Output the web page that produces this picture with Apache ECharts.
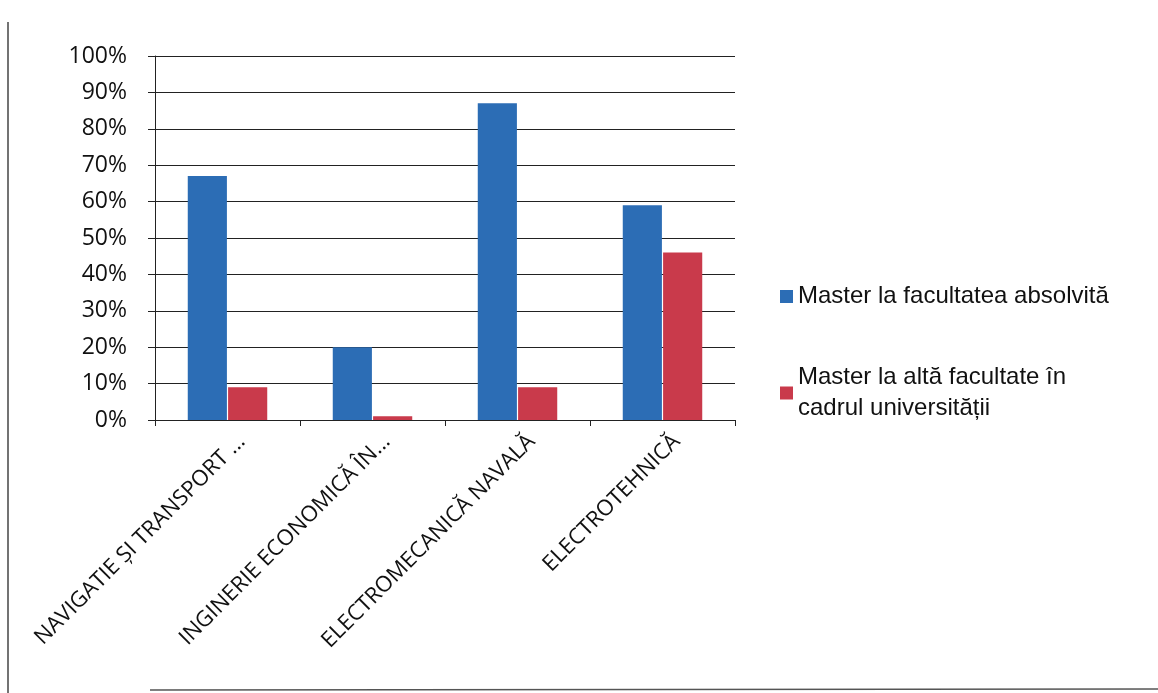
<!DOCTYPE html>
<html><head><meta charset="utf-8">
<script src="https://cdn.jsdelivr.net/npm/echarts@6/dist/echarts.min.js"></script>
<style>html,body{margin:0;padding:0;background:#fff}#c{width:1158px;height:693px}</style>
</head><body><div id="c"></div>
<script>
const categories = ['NAVIGATIE ȘI TRANSPORT ...', 'INGINERIE ECONOMICĂ ÎN...', 'ELECTROMECANICĂ NAVALĂ', 'ELECTROTEHNICĂ'];
const seriesNames = ['Master la facultatea absolvită', 'Master la altă facultate în\ncadrul universității'];
const masterAbsolvita = [67, 20, 87, 59];
const masterAlta = [9, 1, 9, 46];
const yTicks = [0, 10, 20, 30, 40, 50, 60, 70, 80, 90, 100];

const chart = echarts.init(document.getElementById('c'));
chart.setOption({
  backgroundColor: '#fff',
  animation: false,
  textStyle: {fontFamily: 'Open Sans'},
  grid: {left: 155, right: 423, top: 56, bottom: 273},
  legend: {
    orient: 'vertical', left: 775, top: 276, itemWidth: 13, itemHeight: 13, itemGap: 50,
    icon: 'rect',
    textStyle: {fontFamily: 'Liberation Sans', fontSize: 24, color: '#111', lineHeight: 31},
    data: seriesNames
  },
  xAxis: {
    type: 'category', data: categories,
    axisLine: {lineStyle: {color: '#222', width: 1}},
    axisTick: {show: true, length: 6, lineStyle: {color: '#222'}},
    axisLabel: {rotate: 45, interval: 0, fontSize: 22, lineHeight: 40, color: '#111', fontFamily: 'Open Sans',
                margin: 4, verticalAlign: 'top'}
  },
  yAxis: {
    type: 'value', min: yTicks[0], max: yTicks[yTicks.length - 1], interval: 10,
    axisLine: {show: true, lineStyle: {color: '#222'}},
    axisTick: {show: true, inside: false, length: 7, lineStyle: {color: '#222'}},
    axisLabel: {formatter: v => v + '%', fontSize: 23, color: '#111', margin: 28},
    splitLine: {lineStyle: {color: '#222', width: 1.2}}
  },
  series: [
    {name: seriesNames[0], type: 'bar', data: masterAbsolvita, barWidth: '27%', barGap: '3%',
     itemStyle: {color: '#2c6db5'}},
    {name: seriesNames[1], type: 'bar', data: masterAlta, barWidth: '27%',
     itemStyle: {color: '#c93a4b'}}
  ],
  graphic: [
    {type: 'line', shape: {x1: 8, y1: 22, x2: 8, y2: 693}, style: {stroke: '#444', lineWidth: 1.5}},
    {type: 'line', shape: {x1: 150, y1: 690, x2: 1158, y2: 689}, style: {stroke: '#555', lineWidth: 1.5}}
  ]
});
</script></body></html>
